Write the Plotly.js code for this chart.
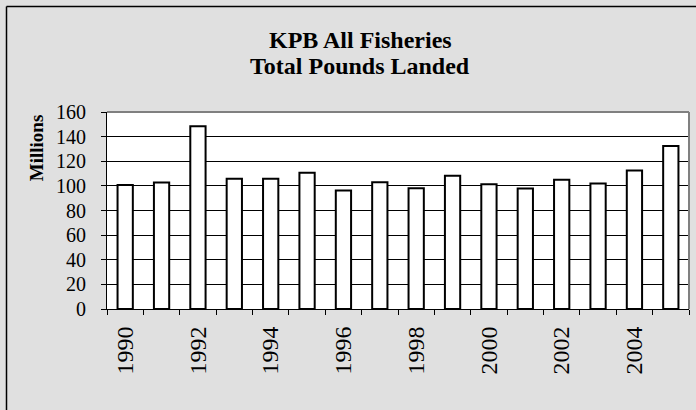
<!DOCTYPE html>
<html>
<head>
<meta charset="utf-8">
<script src="https://cdn.plot.ly/plotly-3.0.1.min.js"></script>
<style>html,body{margin:0;padding:0;background:#e0e0e0;overflow:hidden;}#chart{width:696px;height:410px;}</style>
</head>
<body>
<div id="chart"></div>
<script>
const years = ['1990','1991','1992','1993','1994','1995','1996','1997','1998','1999','2000','2001','2002','2003','2004','2005'];
const poundsMillions = [100.8, 102.7, 148.4, 105.7, 105.7, 110.6, 96.2, 103.0, 98.1, 108.2, 101.4, 97.8, 104.9, 101.9, 112.5, 132.3];
const tickLabels = ['1990','','1992','','1994','','1996','','1998','','2000','','2002','','2004',''];
const yTicks = [0,20,40,60,80,100,120,140,160];
const titleLines = ['KPB All Fisheries', 'Total Pounds Landed'];

const FONT = 'Liberation Serif';

const trace = {
  type: 'bar',
  x: years,
  y: poundsMillions,
  marker: {color: '#ffffff', line: {color: '#000000', width: 2}},
  hoverinfo: 'x+y'
};

const layout = {
  width: 696, height: 410,
  margin: {l: 107, r: 7, t: 112, b: 101},
  paper_bgcolor: '#e0e0e0',
  plot_bgcolor: '#ffffff',
  showlegend: false,
  bargap: 0.58,
  font: {family: FONT, color: '#000'},
  xaxis: {
    type: 'category',
    tickvals: years,
    ticktext: tickLabels,
    tickson: 'boundaries',
    ticks: 'outside', ticklen: 5, tickwidth: 1, tickcolor: '#000',
    tickangle: -90,
    tickfont: {family: FONT, size: 24, color: '#000'},
    ticklabelstandoff: 7,
    showline: true, linecolor: '#000', linewidth: 1,
    showgrid: false, zeroline: false
  },
  yaxis: {
    range: [0, 160],
    tickvals: yTicks,
    ticks: 'outside', ticklen: 5, tickwidth: 1, tickcolor: '#000',
    tickfont: {family: FONT, size: 20, color: '#000'},
    ticklabelstandoff: 11,
    showline: true, linecolor: '#000', linewidth: 1,
    showgrid: true, gridcolor: '#000', gridwidth: 1,
    zeroline: false
  },
  shapes: [
    {type: 'line', xref: 'paper', yref: 'paper', x0: 0, x1: 1, y0: 1, y1: 1, line: {color: '#808080', width: 2}},
    {type: 'line', xref: 'paper', yref: 'paper', x0: 1, x1: 1, y0: 0, y1: 1, line: {color: '#808080', width: 2}},
    {type: 'line', xref: 'paper', yref: 'paper', x0: (6.5-107)/582, x1: (6.5-107)/582, y0: -0.52, y1: (309-6.5)/197, line: {color: '#000', width: 1.5}},
    {type: 'line', xref: 'paper', yref: 'paper', x0: (6.5-107)/582, x1: 1.02, y0: (309-6.5)/197, y1: (309-6.5)/197, line: {color: '#000', width: 1.5}}
  ],
  annotations: [
    {text: '<b>' + titleLines[0] + '</b>', xref: 'paper', yref: 'paper', x: (360-107)/582, y: (309-40)/197,
     xanchor: 'center', yanchor: 'middle', showarrow: false,
     font: {family: FONT, size: 24, color: '#000'}},
    {text: '<b>' + titleLines[1] + '</b>', xref: 'paper', yref: 'paper', x: (360-107)/582, y: (309-66)/197,
     xanchor: 'center', yanchor: 'middle', showarrow: false,
     font: {family: FONT, size: 24, color: '#000'}},
    {text: '<b>Millions</b>', xref: 'paper', yref: 'paper', x: (36.7-107)/582, y: (309-147.5)/197,
     xanchor: 'center', yanchor: 'middle', textangle: -90, showarrow: false,
     font: {family: FONT, size: 19, color: '#000'}}
  ]
};

Plotly.newPlot('chart', [trace], layout, {displayModeBar: false, staticPlot: true});
</script>
</body>
</html>
